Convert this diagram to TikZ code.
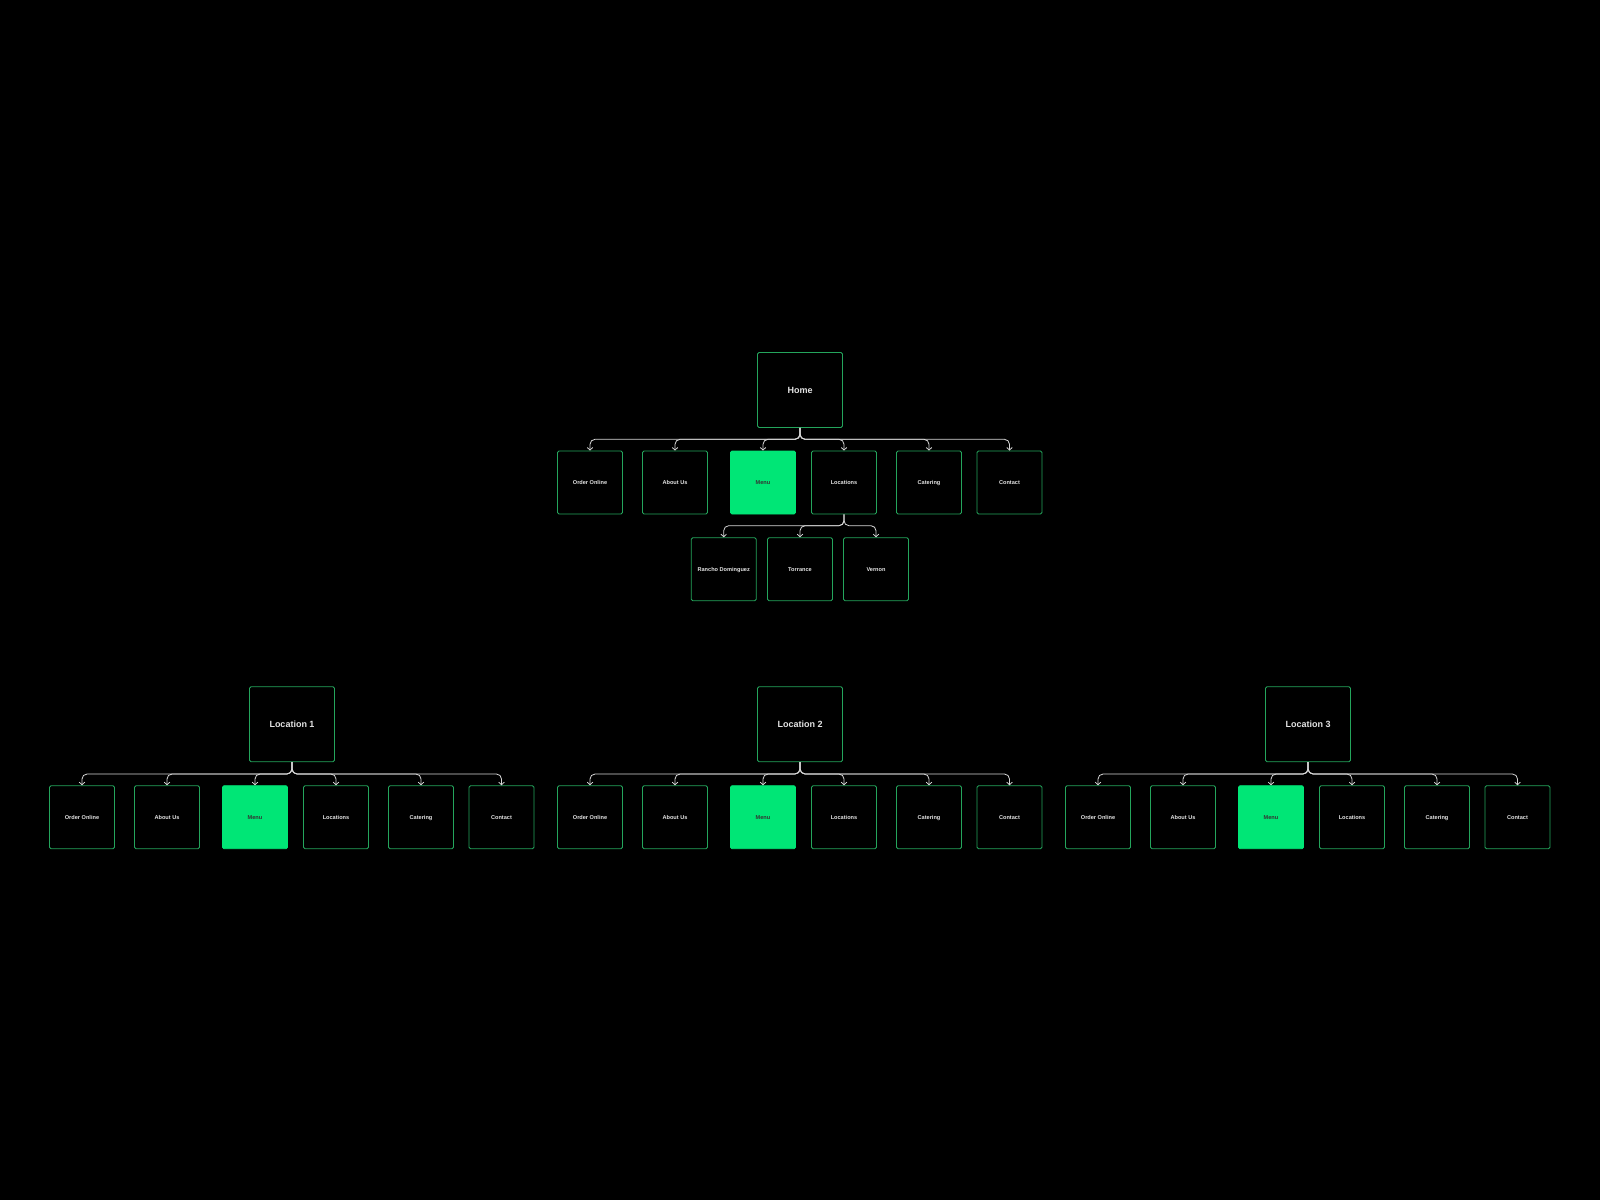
\documentclass[tikz,border=0pt]{standalone}
\usepackage{fontspec}
\setmainfont{Liberation Sans}
\usetikzlibrary{arrows.meta}
\definecolor{boxgreen}{RGB}{36,165,92}
\definecolor{menugreen}{RGB}{0,230,118}
\definecolor{linegray}{RGB}{215,215,215}
\definecolor{txtgray}{RGB}{228,228,228}
\begin{document}
\begin{tikzpicture}[x=1pt,y=-1pt,
  bigbox/.style={draw=boxgreen, line width=0.9pt, rounded corners=1.5pt, minimum width=85pt, minimum height=75pt, inner sep=0pt, text height=6.4pt, text depth=0pt, text=txtgray, font=\bfseries\fontsize{9}{10}\selectfont},
  smallbox/.style={draw=boxgreen, line width=0.9pt, rounded corners=1.5pt, minimum width=65pt, minimum height=63pt, inner sep=0pt, text height=4pt, text depth=0pt, text=txtgray, font=\bfseries\fontsize{5.6}{6}\selectfont},
  menubox/.style={smallbox, fill=menugreen, draw=menugreen, text=black!80},
  conn/.style={draw=linegray, line width=0.8pt, rounded corners=5pt, -{Straight Barb[length=2.5pt,width=5.5pt]}}
]
\fill[black] (0,0) rectangle (1600,1200);
\useasboundingbox (0,0) rectangle (1600,1200);

% Home tree
\node[bigbox] (home) at (800,390) {Home};
\coordinate (hb) at (800,439.3);
\node[smallbox] (h1) at (590,482.5) {Order Online};
\node[smallbox] (h2) at (675,482.5) {About Us};
\node[menubox]  (h3) at (763,482.5) {Menu};
\node[smallbox] (h4) at (844,482.5) {Locations};
\node[smallbox] (h5) at (929,482.5) {Catering};
\node[smallbox] (h6) at (1009.5,482.5) {Contact};
\foreach \j in {1,...,6}
  \draw[conn] (home.south) -- (home.south |- hb) -- (h\j.north |- hb) -- (h\j.north);

\coordinate (sb) at (844,525.7);
\node[smallbox] (s1) at (723.7,569.2) {Rancho Dominguez};
\node[smallbox] (s2) at (800,569.2) {Torrance};
\node[smallbox] (s3) at (876,569.2) {Vernon};
\foreach \j in {1,2,3}
  \draw[conn] (h4.south) -- (h4.south |- sb) -- (s\j.north |- sb) -- (s\j.north);

% Location trees
\foreach \k/\cx in {1/292,2/800,3/1308} {
  \node[bigbox] (L\k) at (\cx,724.2) {Location \k};
  \coordinate (lb\k) at (\cx,774);
  \foreach \j/\dx/\lab in {1/-210/Order Online,2/-125/About Us,4/44/Locations,5/129/Catering,6/209.5/Contact}
    \node[smallbox] (L\k x\j) at (\cx+\dx,817.2) {\lab};
  \node[menubox] (L\k x3) at (\cx-37,817.2) {Menu};
  \foreach \j in {1,...,6}
    \draw[conn] (L\k.south) -- (L\k.south |- lb\k) -- (L\k x\j.north |- lb\k) -- (L\k x\j.north);
}
\end{tikzpicture}
\end{document}
